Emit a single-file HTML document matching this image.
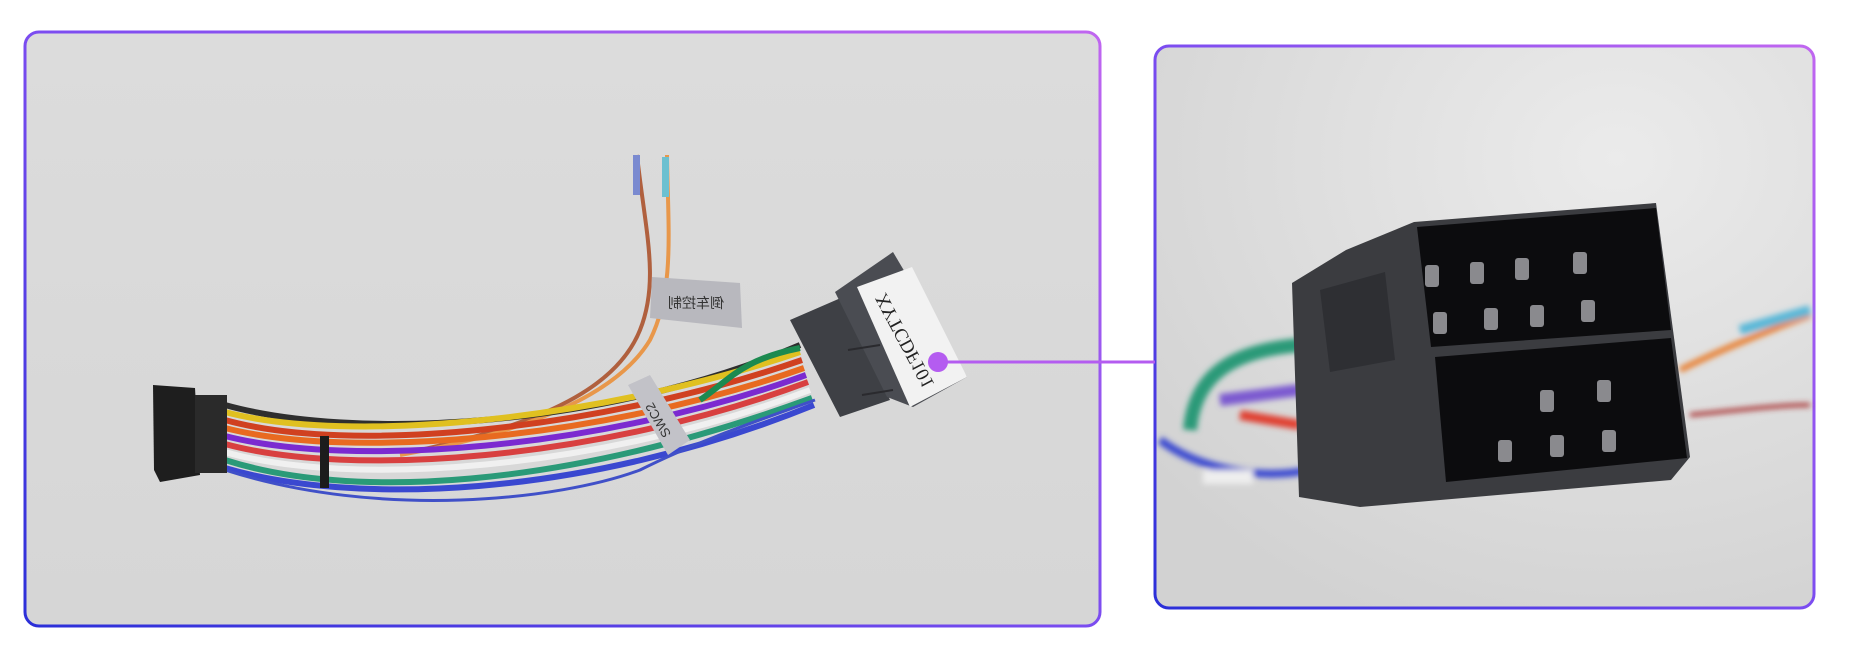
<!DOCTYPE html>
<html><head><meta charset="utf-8"><style>
html,body{margin:0;padding:0;background:#fff;width:1850px;height:652px;overflow:hidden}
</style></head><body>
<svg width="1850" height="652" viewBox="0 0 1850 652" xmlns="http://www.w3.org/2000/svg">
<defs>
<linearGradient id="bd" x1="0" y1="1" x2="1" y2="0">
<stop offset="0" stop-color="#2b2fd8"/><stop offset="0.5" stop-color="#7b4cf0"/><stop offset="1" stop-color="#c066f0"/>
</linearGradient>
<linearGradient id="bgL" x1="0" y1="0" x2="0" y2="1">
<stop offset="0" stop-color="#dcdcdc"/><stop offset="1" stop-color="#d6d6d6"/>
</linearGradient>
<radialGradient id="bgR" cx="0.7" cy="0.2" r="0.9">
<stop offset="0" stop-color="#ebebeb"/><stop offset="1" stop-color="#d2d2d2"/>
</radialGradient>
<filter id="bl"><feGaussianBlur stdDeviation="3"/></filter>
</defs>
<rect x="25" y="32" width="1075" height="594" rx="14" fill="url(#bgL)" stroke="url(#bd)" stroke-width="3"/>
<rect x="1155" y="46" width="659" height="562" rx="14" fill="url(#bgR)" stroke="url(#bd)" stroke-width="3"/>

<path d="M637,155 C645,230 660,280 640,330 C620,380 560,420 420,450" stroke="#b0603e" stroke-width="4" fill="none"/>
<path d="M667,155 C668,230 675,290 650,340 C620,390 540,430 400,455" stroke="#e8974a" stroke-width="4" fill="none"/>
<rect x="633" y="155" width="7" height="40" fill="#7a8ad0"/>
<rect x="662" y="157" width="7" height="40" fill="#6cc0d0"/>
<polygon points="652,277 740,283 742,328 650,318" fill="#b8b8be"/>
<text x="696" y="308" font-family="Liberation Sans,'Noto Sans CJK SC',sans-serif" font-size="14" fill="#333" text-anchor="middle" transform="scale(-1,1) translate(-1392,0)">倒车控制</text>

<g fill="none" stroke-width="6">
<path d="M225,405 C350,440 600,430 800,345" stroke="#2e2e2e"/>
<path d="M225,412 C350,445 600,420 800,352" stroke="#e0c020"/>
<path d="M225,420 C350,455 600,430 802,360" stroke="#d04020"/>
<path d="M225,428 C350,460 600,440 804,368" stroke="#e86a20"/>
<path d="M225,436 C350,468 600,450 806,375" stroke="#7b2ad0"/>
<path d="M225,444 C350,478 600,460 808,382" stroke="#d84040"/>
<path d="M225,452 C350,488 600,470 810,390" stroke="#f0f0f0"/>
<path d="M225,460 C350,500 560,490 812,398" stroke="#2a9a78"/>
<path d="M225,468 C350,505 580,500 814,405" stroke="#3a48d0"/>
<path d="M225,470 C380,520 560,500 640,470 C700,440 760,420 815,400" stroke="#4050c8" stroke-width="3"/>
<path d="M800,348 C740,360 730,380 700,400" stroke="#1c8a50"/>
</g>
<polygon points="628,385 650,375 690,440 668,455" fill="#c2c2c8"/>
<text x="0" y="0" font-family="Liberation Sans,sans-serif" font-size="13" fill="#333" text-anchor="middle" transform="translate(662,418) rotate(-120)">SWC2</text>
<rect x="320" y="436" width="9" height="52" fill="#1c1c1c"/>
<polygon points="153,385 195,388 200,475 160,482 154,470" fill="#1e1e1e"/>
<rect x="195" y="395" width="32" height="78" fill="#2a2a2a"/>
<!-- right grey connector (left panel) -->
<polygon points="790,320 843,297 890,400 840,417" fill="#3e4045"/>
<polygon points="835,292 893,252 967,377 913,407 887,397" fill="#4a4c52"/>
<polygon points="857,287 912,267 967,377 910,407" fill="#f2f2f2"/>
<text x="0" y="0" font-family="Liberation Serif,serif" font-size="19" fill="#222" text-anchor="middle" transform="translate(910,338) rotate(62) scale(1,-1)">XYTCDF101</text>
<line x1="848" y1="350" x2="880" y2="345" stroke="#2a2a2e" stroke-width="2"/>
<line x1="862" y1="395" x2="893" y2="390" stroke="#2a2a2e" stroke-width="2"/>

<line x1="938" y1="362" x2="1155" y2="362" stroke="#b45cf0" stroke-width="3"/>
<circle cx="938" cy="362" r="10" fill="#b45cf0"/>

<g filter="url(#bl)">
<path d="M1160,440 C1200,470 1260,480 1310,470" stroke="#3a48d0" stroke-width="8" fill="none"/>
<path d="M1190,430 C1195,370 1240,350 1300,345" stroke="#2a9a78" stroke-width="14" fill="none"/>
<path d="M1220,400 L1300,390" stroke="#7b5ad0" stroke-width="12"/>
<path d="M1240,415 L1300,425" stroke="#e04030" stroke-width="10"/>
<path d="M1680,370 C1720,350 1770,330 1810,315" stroke="#e88030" stroke-width="6" fill="none"/>
<path d="M1740,330 L1810,310" stroke="#5ab8d8" stroke-width="10"/>
<path d="M1690,415 C1740,410 1780,405 1810,405" stroke="#a83030" stroke-width="4" fill="none"/>
<rect x="1203" y="470" width="50" height="14" fill="#eee"/>
</g>
<polygon points="1292,283 1346,250 1414,222 1656,203 1690,457 1671,480 1360,507 1299,497" fill="#3b3c40"/>
<polygon points="1417,227 1656,208 1671,330 1431,347" fill="#0c0c0e"/>
<polygon points="1435,357 1671,338 1687,458 1446,482" fill="#0c0c0e"/>
<polygon points="1320,290 1385,272 1395,360 1330,372" fill="#2e2f33"/>
<g fill="#8a8a8e">
<rect x="1425" y="265" width="14" height="22" rx="3"/><rect x="1470" y="262" width="14" height="22" rx="3"/><rect x="1515" y="258" width="14" height="22" rx="3"/><rect x="1573" y="252" width="14" height="22" rx="3"/>
<rect x="1433" y="312" width="14" height="22" rx="3"/><rect x="1484" y="308" width="14" height="22" rx="3"/><rect x="1530" y="305" width="14" height="22" rx="3"/><rect x="1581" y="300" width="14" height="22" rx="3"/>
<rect x="1540" y="390" width="14" height="22" rx="3"/><rect x="1597" y="380" width="14" height="22" rx="3"/>
<rect x="1498" y="440" width="14" height="22" rx="3"/><rect x="1550" y="435" width="14" height="22" rx="3"/><rect x="1602" y="430" width="14" height="22" rx="3"/>
</g>
</svg>
</body></html>
